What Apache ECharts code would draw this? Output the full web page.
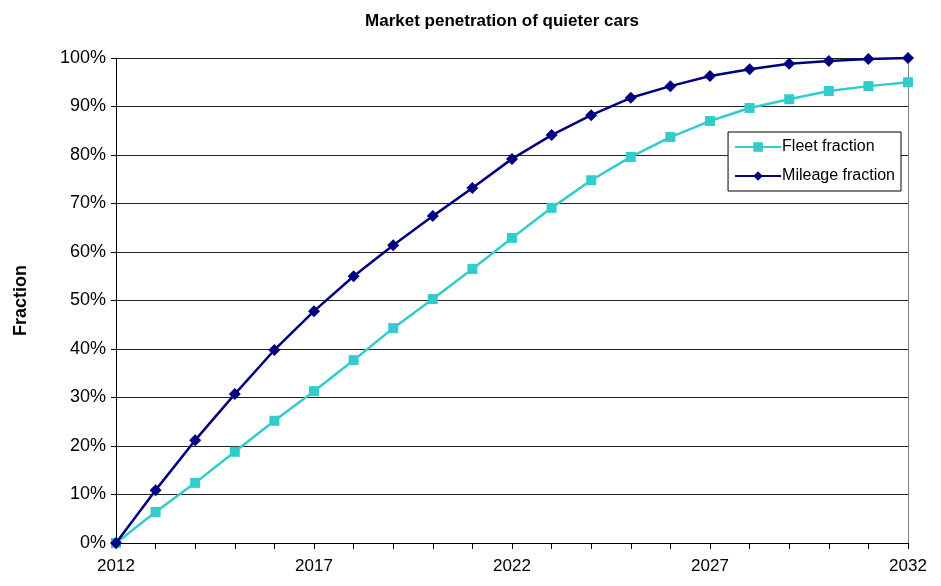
<!DOCTYPE html>
<html>
<head>
<meta charset="utf-8">
<script src="https://cdn.jsdelivr.net/npm/echarts@6/dist/echarts.min.js"></script>
<style>
html, body { margin: 0; padding: 0; background: #fff; }
#chart { width: 941px; height: 586px; }
</style>
</head>
<body>
<div id="chart"></div>
<script>
var years = ['2012', '2013', '2014', '2015', '2016', '2017', '2018', '2019', '2020', '2021', '2022',
	'2023', '2024', '2025', '2026', '2027', '2028', '2029', '2030', '2031', '2032'];
var fleetFraction = [0, 6.4, 12.4, 18.8, 25.2, 31.3, 37.7, 44.3, 50.3, 56.5, 62.9,
	69.1, 74.8, 79.6, 83.7, 87.0, 89.7, 91.5, 93.2, 94.2, 95.0];
var mileageFraction = [0, 10.9, 21.2, 30.7, 39.8, 47.8, 55.0, 61.4, 67.4, 73.2, 79.2,
	84.1, 88.2, 91.8, 94.2, 96.3, 97.7, 98.8, 99.4, 99.8, 100];

var myChart = echarts.init(document.getElementById('chart'));

var font = 'Liberation Sans, Arial, sans-serif';

var option = {
	animation: false,
	title: {
		text: 'Market penetration of quieter cars',
		left: 497,
		top: 8,
		textAlign: 'center',
		textStyle: { fontFamily: font, fontSize: 17, fontWeight: 'bold', color: '#000' }
	},
	legend: {
		orient: 'vertical',
		right: 40,
		top: 132,
		padding: [7, 6, 7, 6],
		itemGap: 13,
		itemWidth: 46,
		itemHeight: 12,
		borderColor: '#000',
		borderWidth: 1,
		backgroundColor: '#fff',
		textStyle: { fontFamily: font, fontSize: 16, color: '#000', padding: [0, 0, 0, -4] },
		data: ['Fleet fraction', 'Mileage fraction']
	},
	grid: { left: 116, right: 33, top: 58, bottom: 43 },
	xAxis: {
		type: 'category',
		data: years,
		boundaryGap: false,
		axisLine: { lineStyle: { color: '#000', width: 1 } },
		axisTick: { interval: 0, length: 6, lineStyle: { color: '#000' } },
		axisLabel: { interval: 4, margin: 15, fontFamily: font, fontSize: 17, color: '#000' },
		splitLine: { show: false }
	},
	yAxis: [{
		type: 'value',
		min: 0,
		max: 100,
		interval: 10,
		name: 'Fraction',
		nameLocation: 'middle',
		nameGap: 86,
		nameTextStyle: { fontFamily: font, fontSize: 18, fontWeight: 'bold', color: '#000' },
		axisLine: { show: true, lineStyle: { color: '#000' } },
		axisTick: { show: true, length: 5, lineStyle: { color: '#000' } },
		axisLabel: { formatter: '{value}%', margin: 10, fontFamily: font, fontSize: 18, color: '#000' },
		splitLine: { lineStyle: { color: '#222', width: 1 } }
	}, {
		type: 'value',
		min: 0,
		max: 100,
		interval: 10,
		position: 'right',
		axisLine: { show: true, lineStyle: { color: '#808080' } },
		axisTick: { show: false },
		axisLabel: { show: false },
		splitLine: { show: false }
	}],
	series: [{
		name: 'Fleet fraction',
		type: 'line',
		data: fleetFraction,
		symbol: 'rect',
		symbolSize: 10,
		itemStyle: { color: '#33CCCC' },
		lineStyle: { color: '#33CCCC', width: 2.5 },
		z: 3
	}, {
		name: 'Mileage fraction',
		type: 'line',
		data: mileageFraction,
		symbol: 'diamond',
		symbolSize: 12,
		itemStyle: { color: '#000080' },
		lineStyle: { color: '#000080', width: 2.5 },
		z: 4
	}]
};

myChart.setOption(option);
</script>
</body>
</html>
